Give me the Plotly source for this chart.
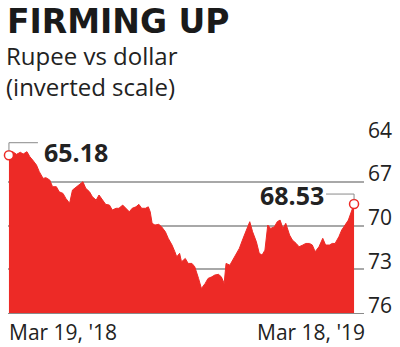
import plotly.graph_objects as go

# Rupee per US dollar, Mar 2018 - Mar 2019
dates = [
    "2018-03-19", "2018-03-20", "2018-03-23", "2018-03-27", "2018-03-31", "2018-04-03",
    "2018-04-07", "2018-04-10", "2018-04-13", "2018-04-17", "2018-04-20", "2018-04-24",
    "2018-04-27", "2018-05-01", "2018-05-04", "2018-05-08", "2018-05-11", "2018-05-15",
    "2018-05-18", "2018-05-22", "2018-05-25", "2018-05-29", "2018-06-01", "2018-06-05",
    "2018-06-08", "2018-06-12", "2018-06-15", "2018-06-19", "2018-06-22", "2018-06-26",
    "2018-06-29", "2018-07-03", "2018-07-06", "2018-07-10", "2018-07-13", "2018-07-17",
    "2018-07-20", "2018-07-24", "2018-07-27", "2018-07-31", "2018-08-03", "2018-08-06",
    "2018-08-10", "2018-08-13", "2018-08-15", "2018-08-17", "2018-08-20", "2018-08-24",
    "2018-08-27", "2018-08-31", "2018-09-03", "2018-09-07", "2018-09-10", "2018-09-12",
    "2018-09-15", "2018-09-17", "2018-09-21", "2018-09-24", "2018-09-28", "2018-10-01",
    "2018-10-05", "2018-10-08", "2018-10-12", "2018-10-15", "2018-10-19", "2018-10-22",
    "2018-10-26", "2018-10-29", "2018-11-01", "2018-11-03", "2018-11-07", "2018-11-10",
    "2018-11-14", "2018-11-17", "2018-11-21", "2018-11-24", "2018-11-28", "2018-12-01",
    "2018-12-05", "2018-12-08", "2018-12-11", "2018-12-14", "2018-12-17", "2018-12-20",
    "2018-12-24", "2018-12-27", "2018-12-30", "2019-01-02", "2019-01-05", "2019-01-09",
    "2019-01-12", "2019-01-16", "2019-01-19", "2019-01-23", "2019-01-26", "2019-01-30",
    "2019-02-02", "2019-02-05", "2019-02-09", "2019-02-13", "2019-02-16", "2019-02-20",
    "2019-02-23", "2019-02-26", "2019-03-02", "2019-03-05", "2019-03-09", "2019-03-12",
    "2019-03-18",
]
rate = [
    65.18, 65.05, 64.94, 65.12, 64.98, 65.10,
    64.94, 65.28, 65.51, 65.85, 66.31, 66.77,
    66.72, 66.88, 67.34, 67.34, 67.69, 67.80,
    68.14, 68.48, 67.57, 67.34, 67.23, 67.00,
    67.45, 67.69, 68.03, 68.26, 67.91, 68.26,
    68.55, 68.60, 68.94, 68.82, 68.82, 68.60,
    68.82, 69.06, 68.82, 68.72, 68.55, 68.82,
    68.82, 68.72, 69.06, 69.85, 69.97, 69.92,
    70.09, 70.43, 70.88, 71.34, 71.80, 72.15,
    71.91, 72.49, 72.26, 72.60, 72.60, 72.83,
    73.63, 74.32, 73.97, 73.63, 73.52, 73.40,
    73.35, 73.52, 73.97, 72.60, 72.72, 72.37,
    71.91, 71.57, 70.88, 70.43, 69.74, 70.43,
    71.12, 71.91, 72.03, 71.69, 69.97, 70.20,
    70.09, 69.74, 69.63, 70.20, 69.85, 70.66,
    71.00, 71.23, 71.46, 71.34, 71.23, 71.23,
    71.34, 71.80, 71.46, 70.88, 71.34, 71.34,
    71.23, 71.23, 70.77, 70.31, 69.97, 69.63,
    68.53,
]
y_ticks = [64, 67, 70, 73, 76]
first_label = "Mar 19, '18"
last_label = "Mar 18, '19"

RED = "#ED2A26"
INK = "#222222"
GRID = "#A8A8A8"
LEADER = "#8A8A8A"

fig = go.Figure()

# floor of the filled area sits on the bottom of the inverted scale
fig.add_trace(go.Scatter(
    x=[dates[0], dates[-1]], y=[y_ticks[-1], y_ticks[-1]],
    mode="lines", line=dict(width=0, color=RED), hoverinfo="skip",
))
fig.add_trace(go.Scatter(
    x=dates, y=rate, mode="lines", fill="tonexty",
    fillcolor=RED, line=dict(color=RED, width=1),
))
# end-point markers
fig.add_trace(go.Scatter(
    x=[dates[0], dates[-1]], y=[rate[0], rate[-1]], mode="markers",
    marker=dict(symbol="circle", size=9, color="white",
                line=dict(color=RED, width=1.5)),
    cliponaxis=False,
))

# elbow leader lines from the end points to their value labels
for d, v, path in [
    (dates[0], rate[0], "M 0 4.5 L 0 12.5 L 29 12.5"),
    (dates[-1], rate[-1], "M 0 4.5 L 0 10 L -28 10"),
]:
    fig.add_shape(type="path", xref="x", yref="y",
                  xsizemode="pixel", ysizemode="pixel",
                  xanchor=d, yanchor=v, path=path,
                  line=dict(color=LEADER, width=1), layer="above")

annotations = [
    dict(text="<b>FIRMING UP</b>", x=-0.008, y=1.665, xanchor="left", yanchor="middle",
         font=dict(family="DejaVu Sans", size=33, color="#1A1A1A")),
    dict(text="Rupee vs dollar<br>(inverted scale)", x=-0.012, y=1.385,
         xanchor="left", yanchor="middle", align="left",
         font=dict(family="Open Sans", size=24, color=INK)),
    dict(text="<b>%.2f</b>" % rate[0], x=dates[0], y=rate[0], xref="x", yref="y",
         xanchor="left", yanchor="middle", xshift=33, yshift=3,
         font=dict(family="Open Sans", size=25, color=INK)),
    dict(text="<b>%.2f</b>" % rate[-1], x=dates[-1], y=rate[-1], xref="x", yref="y",
         xanchor="right", yanchor="middle", xshift=-28, yshift=9,
         font=dict(family="Open Sans", size=25, color=INK)),
    dict(text=first_label, x=dates[0], y=-0.11, xref="x",
         xanchor="left", yanchor="middle", xshift=-2,
         font=dict(family="Open Sans", size=21, color=INK)),
    dict(text=last_label, x=dates[-1], y=-0.11, xref="x",
         xanchor="right", yanchor="middle", xshift=13,
         font=dict(family="Open Sans", size=21, color=INK)),
]
for a in annotations:
    a.setdefault("xref", "paper")
    a.setdefault("yref", "paper")
    a["showarrow"] = False

fig.update_layout(
    width=400, height=347,
    margin=dict(l=8, r=33, t=138, b=34),
    paper_bgcolor="white", plot_bgcolor="white",
    showlegend=False,
    annotations=annotations,
    xaxis=dict(
        type="date", range=["2018-03-18", "2019-03-28 12:00"],
        showgrid=False, zeroline=False, showticklabels=False, ticks="",
        showline=True, linecolor="#8A8A8A", linewidth=1,
    ),
    yaxis=dict(
        range=[y_ticks[-1], y_ticks[0]], side="right",
        tickvals=y_ticks, ticks="", showline=False, zeroline=False,
        showgrid=True, gridcolor=GRID, gridwidth=1.5,
        ticklabelposition="outside top", ticklabelstandoff=3, ticklabelshift=-7,
        tickfont=dict(family="Open Sans", size=21, color=INK),
    ),
)

fig.write_html("out.html")
